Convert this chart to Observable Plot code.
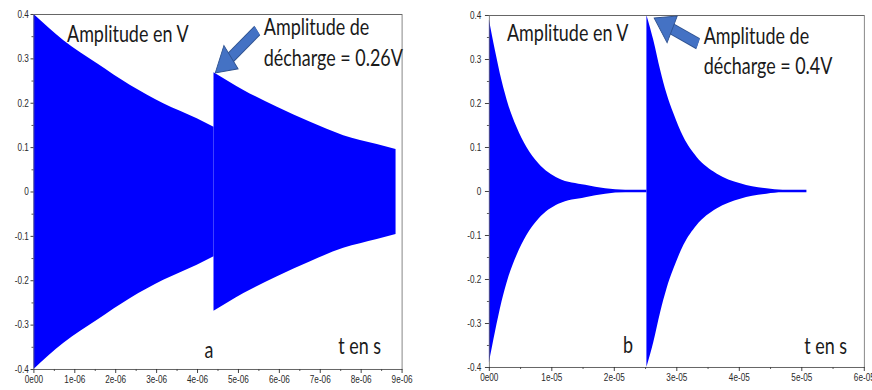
<!DOCTYPE html>
<html>
<head>
<meta charset="utf-8">
<script src="https://cdn.jsdelivr.net/npm/d3@7"></script>
<script src="https://cdn.jsdelivr.net/npm/@observablehq/plot@0.6"></script>
<style>
  html, body { margin: 0; padding: 0; background: #fff; overflow: hidden; }
  #wrap { display: flex; transform-origin: 0 0; }
  #wrap > * { flex: none; }
</style>
</head>
<body>
<div id="wrap"></div>
<script>
// ---- Panel a: envelope of the oscillation (V) vs time (s)
const tA = [0, 0.73e-6, 1.55e-6, 2.36e-6, 3.17e-6, 3.99e-6, 4.40e-6, 4.40e-6, 5.13e-6, 5.95e-6, 6.76e-6, 7.57e-6, 8.39e-6, 8.85e-6];
const envA = [0.400, 0.341, 0.289, 0.240, 0.199, 0.165, 0.146, 0.269, 0.229, 0.191, 0.157, 0.127, 0.107, 0.096];
const burstA = [1, 1, 1, 1, 1, 1, 1, 2, 2, 2, 2, 2, 2, 2];

// ---- Panel b
const tB = [0, 0.96e-6, 2.0e-6, 3.1e-6, 4.4e-6, 6.0e-6, 7.9e-6, 11.1e-6, 15.4e-6, 18.6e-6, 21.8e-6, 25.2e-6,
            25.2e-6, 26.3e-6, 27.4e-6, 28.4e-6, 29.5e-6, 31.1e-6, 33.2e-6, 36.4e-6, 40.2e-6, 44.4e-6, 47.0e-6, 50.8e-6];
const envB = [0.389, 0.320, 0.252, 0.195, 0.146, 0.100, 0.063, 0.029, 0.014, 0.006, 0.003, 0.003,
              0.400, 0.343, 0.275, 0.222, 0.177, 0.123, 0.078, 0.040, 0.0175, 0.006, 0.003, 0.003];
const burstB = [1,1,1,1,1,1,1,1,1,1,1,1, 2,2,2,2,2,2,2,2,2,2,2,2];

// ---- Tick values and labels
const yTicks = [-0.4, -0.3, -0.2, -0.1, 0, 0.1, 0.2, 0.3, 0.4];
const yLabels = ["-0.4", "-0.3", "-0.2", "-0.1", "0", "0.1", "0.2", "0.3", "0.4"];
const yMinor = [-0.35, -0.25, -0.15, -0.05, 0.05, 0.15, 0.25, 0.35];
const xTicksA = [0, 1e-6, 2e-6, 3e-6, 4e-6, 5e-6, 6e-6, 7e-6, 8e-6, 9e-6];
const xLabelsA = ["0e00", "1e-06", "2e-06", "3e-06", "4e-06", "5e-06", "6e-06", "7e-06", "8e-06", "9e-06"];
const xMinorA = [0.5e-6, 1.5e-6, 2.5e-6, 3.5e-6, 4.5e-6, 5.5e-6, 6.5e-6, 7.5e-6, 8.5e-6];
const xTicksB = [0, 1e-5, 2e-5, 3e-5, 4e-5, 5e-5, 6e-5];
const xLabelsB = ["0e00", "1e-05", "2e-05", "3e-05", "4e-05", "5e-05", "6e-05"];
const xMinorB = [0.5e-5, 1.5e-5, 2.5e-5, 3.5e-5, 4.5e-5, 5.5e-5];

// ---- Annotations (data coordinates)
const notesA = [
  {t: 0.81e-6, v: 0.338, label: "Amplitude en V"},
  {t: 5.62e-6, v: 0.353, label: "Amplitude de"},
  {t: 5.62e-6, v: 0.285, label: "décharge = 0.26V"},
  {t: 4.17e-6, v: -0.3745, label: "a"},
  {t: 7.44e-6, v: -0.366, label: "t en s"}
];
const notesB = [
  {t: 2.83e-6, v: 0.3416, label: "Amplitude en V"},
  {t: 34.3e-6, v: 0.3357, label: "Amplitude de"},
  {t: 34.3e-6, v: 0.2675, label: "décharge = 0.4V"},
  {t: 21.4e-6, v: -0.3675, label: "b"},
  {t: 50.4e-6, v: -0.369, label: "t en s"}
];
const arrowA = [{t1: 5.46e-6, v1: 0.364, t2: 4.69e-6, v2: 0.292}];
const arrowB = [{t1: 33.4e-6, v1: 0.336, t2: 28.3e-6, v2: 0.377}];

const k = 0.78; // horizontal squeeze of the original picture
const blue = "#0000ff";
const arrowFill = "#4472C4";
const arrowEdge = "#2F528F";
const textFont = "Lato";

function table(t, env, burst) {
  return t.map((d, i) => ({t: d, env: env[i], burst: burst[i]}));
}

function panel({data, xDomain, xTicks, xLabels, xMinor, notes, arrow, rot, width, mL, mR, mT, mB, ySize, yPad}) {
  return Plot.plot({
    width: width / k,
    height: 390,
    marginLeft: mL / k,
    marginRight: mR / k,
    marginTop: mT,
    marginBottom: mB,
    style: {fontFamily: "Liberation Sans", background: "transparent", overflow: "visible"},
    x: {domain: xDomain, axis: null},
    y: {domain: [-0.4, 0.4], axis: null},
    marks: [
      Plot.areaY(data, {x: "t", y1: d => -d.env, y2: d => d.env, z: "burst", fill: blue, curve: "monotone-x"}),
      Plot.frame({stroke: "#666", strokeWidth: 1}),
      Plot.axisY(yTicks, {tickSize: ySize / k, tickPadding: yPad / k, tickFormat: d => yLabels[yTicks.indexOf(d)], fontSize: 10.5, color: "#2a2a2a"}),
      Plot.axisY(yMinor, {tickSize: 2 / k, tickFormat: () => "", color: "#444"}),
      Plot.axisX(xTicks, {tickSize: 4, tickPadding: 2, tickFormat: d => xLabels[xTicks.indexOf(d)], fontSize: 10.5, color: "#2a2a2a"}),
      Plot.axisX(xMinor, {tickSize: 2, tickFormat: () => "", color: "#444"}),
      Plot.link(arrow, {x1: "t1", y1: "v1", x2: "t2", y2: "v2", stroke: arrowEdge, strokeWidth: 12}),
      Plot.link(arrow, {x1: "t1", y1: "v1", x2: "t2", y2: "v2", stroke: arrowFill, strokeWidth: 10}),
      Plot.dot(arrow, {x: "t2", y: "v2", symbol: "triangle", r: 11, rotate: rot, fill: arrowFill, stroke: arrowEdge, strokeWidth: 1}),
      Plot.text(notes, {x: "t", y: "v", text: "label", textAnchor: "start", lineAnchor: "bottom", fontSize: 23, fontFamily: textFont, fill: "#1a1a1a"})
    ]
  });
}

const wrap = document.getElementById("wrap");
wrap.style.width = (872 / k) + "px";
wrap.style.transform = `scaleX(${k})`;

wrap.appendChild(panel({
  data: table(tA, envA, burstA), xDomain: [0, 9e-6], xTicks: xTicksA, xLabels: xLabelsA, xMinor: xMinorA,
  notes: notesA, arrow: arrowA, rot: 232, width: 440, mL: 33.5, mR: 38.3, mT: 14, mB: 21, ySize: 3, yPad: 2
}));
wrap.appendChild(panel({
  data: table(tB, envB, burstB), xDomain: [0, 6e-5], xTicks: xTicksB, xLabels: xLabelsB, xMinor: xMinorB,
  notes: notesB, arrow: arrowB, rot: 296, width: 432, mL: 49, mR: 8, mT: 15, mB: 23, ySize: 4, yPad: 4
}));
</script>
</body>
</html>
